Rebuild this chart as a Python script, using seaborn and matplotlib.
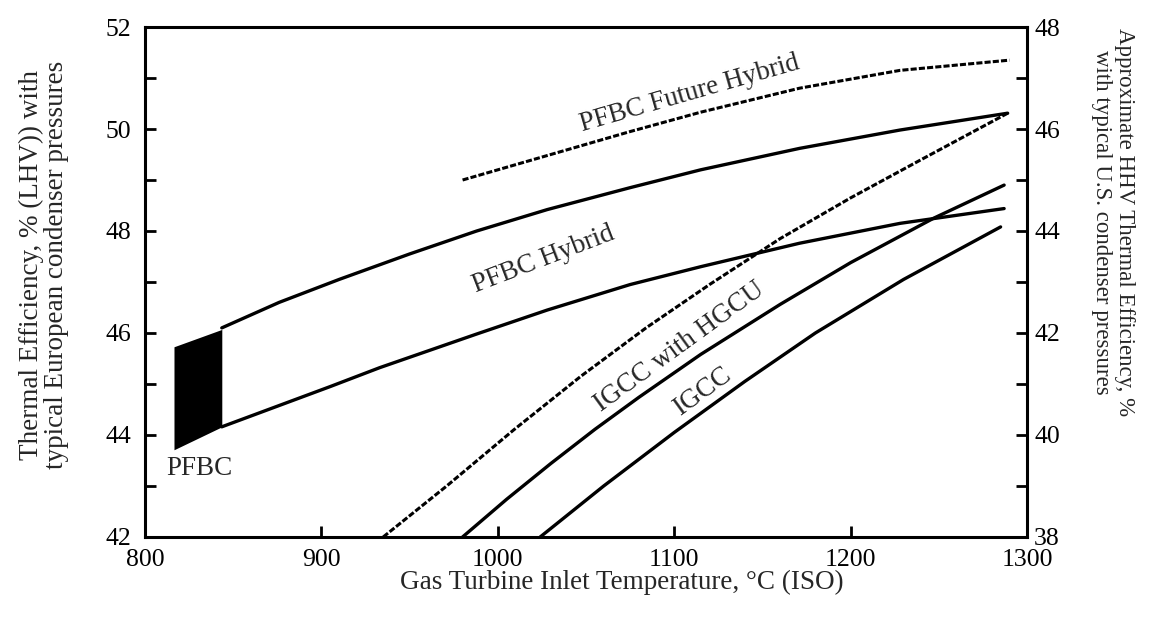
import matplotlib
matplotlib.use("Agg")
import matplotlib.pyplot as plt
import pandas as pd
import seaborn as sns
from matplotlib.ticker import MultipleLocator

# Gas turbine inlet temperature (deg C) vs. thermal efficiency (% LHV)
future_hybrid_temp = [980, 1010, 1040, 1075, 1115, 1171, 1228, 1290]
future_hybrid_eff = [49.0, 49.3, 49.6, 49.95, 50.33, 50.8, 51.15, 51.35]

hybrid_upper_temp = [843.5, 876, 910, 950, 988, 1028, 1075, 1115, 1171, 1228, 1289]
hybrid_upper_eff = [46.1, 46.6, 47.05, 47.55, 48.0, 48.42, 48.85, 49.2, 49.62, 49.98, 50.31]

hybrid_lower_temp = [843.5, 905, 933, 988, 1028, 1075, 1115, 1171, 1228, 1287]
hybrid_lower_eff = [44.16, 44.95, 45.32, 45.98, 46.45, 46.95, 47.3, 47.76, 48.15, 48.44]

igcc_adv_temp = [935, 971, 1009, 1047, 1084, 1120, 1160, 1200, 1240, 1289]
igcc_adv_eff = [42.0, 43.0, 44.1, 45.15, 46.1, 46.95, 47.85, 48.65, 49.4, 50.31]

hgcu_temp = [980, 1005, 1030, 1055, 1080, 1115, 1160, 1200, 1247, 1287]
hgcu_eff = [42.0, 42.74, 43.44, 44.11, 44.74, 45.58, 46.56, 47.38, 48.25, 48.9]

igcc_temp = [1024, 1060, 1100, 1140, 1180, 1230, 1285]
igcc_eff = [42.0, 43.0, 44.05, 45.05, 46.0, 47.05, 48.08]

# PFBC operating window (shaded block)
pfbc_temp = [816.4, 843.5]
pfbc_low = [43.71, 44.16]
pfbc_high = [45.73, 46.07]

x_ticks = [800, 900, 1000, 1100, 1200, 1300]
left_ticks = [42, 44, 46, 48, 50, 52]
right_ticks = [38, 40, 42, 44, 46, 48]

sns.set_theme(style="white")
plt.rcParams["font.family"] = ["Liberation Serif", "DejaVu Serif"]

fig = plt.figure(figsize=(11.54, 6.21), dpi=100)
ax = fig.add_axes([0.1257, 0.1353, 0.7643, 0.8212])

solid = dict(color="black", linewidth=2.4, estimator=None, sort=False, ax=ax, legend=False)
dashed = dict(color="black", linewidth=2.2, estimator=None, sort=False, ax=ax, legend=False)


def series(t, e):
    return pd.DataFrame({"temp": t, "eff": e})


sns.lineplot(data=series(hybrid_upper_temp, hybrid_upper_eff), x="temp", y="eff", **solid)
sns.lineplot(data=series(hybrid_lower_temp, hybrid_lower_eff), x="temp", y="eff", **solid)
sns.lineplot(data=series(hgcu_temp, hgcu_eff), x="temp", y="eff", **solid)
sns.lineplot(data=series(igcc_temp, igcc_eff), x="temp", y="eff", **solid)
n_solid = len(ax.lines)
sns.lineplot(data=series(future_hybrid_temp, future_hybrid_eff), x="temp", y="eff", **dashed)
sns.lineplot(data=series(igcc_adv_temp, igcc_adv_eff), x="temp", y="eff", **dashed)
for ln in ax.lines[n_solid:]:
    ln.set_dashes((2.0, 0.7))
    ln.set_dash_capstyle("butt")
for ln in ax.lines:
    ln.set_solid_joinstyle("round")

ax.fill_between(pfbc_temp, pfbc_low, pfbc_high, color="black", linewidth=0)

ax.set_xlim(800, 1300)
ax.set_ylim(42, 52)
ax.set_xticks(x_ticks)
ax.set_xticklabels([str(v) for v in x_ticks])
ax.set_yticks(left_ticks)
ax.set_yticklabels([str(v) for v in left_ticks])
ax.yaxis.set_minor_locator(MultipleLocator(1))
ax.set_xlabel("")
ax.set_ylabel("")
ax.grid(False)

for s in ax.spines.values():
    s.set_visible(True)
    s.set_color("black")
    s.set_linewidth(2.2)

ax.tick_params(axis="both", which="both", direction="in", length=8, width=2.0,
               colors="black", labelsize=18.5)
ax.tick_params(axis="y", which="both", left=True, right=False, pad=10)
ax.tick_params(axis="x", which="both", bottom=True, top=False, pad=9)

ax2 = ax.twinx()
ax2.set_ylim(38, 48)
ax2.set_yticks(right_ticks)
ax2.set_yticklabels([str(v) for v in right_ticks])
ax2.yaxis.set_minor_locator(MultipleLocator(1))
ax2.grid(False)
for s in ax2.spines.values():
    s.set_visible(False)
ax2.tick_params(axis="y", which="both", direction="in", length=8, width=2.0,
                colors="black", labelsize=18.5, pad=5, right=True, left=False)

# Curve labels
ax.text(1109, 50.69, "PFBC Future Hybrid", fontsize=19.5, rotation=16,
        ha="center", va="center")
ax.text(1026, 47.45, "PFBC Hybrid", fontsize=19.5, rotation=21,
        ha="center", va="center")
ax.text(1103, 45.72, "IGCC with HGCU", fontsize=19.5, rotation=36,
        ha="center", va="center")
ax.text(1116, 44.85, "IGCC", fontsize=19.5, rotation=36,
        ha="center", va="center")
ax.text(831, 43.35, "PFBC", fontsize=19.5, ha="center", va="center")

# Axis titles
fig.text(622 / 1154, 1 - 582 / 621, "Gas Turbine Inlet Temperature, \u00b0C (ISO)",
         fontsize=19.5, ha="center", va="center")
fig.text(44 / 1154, 1 - 265 / 621,
         "Thermal Efficiency, % (LHV)) with\ntypical European condenser pressures",
         fontsize=19.5, rotation=90, ha="center", va="center", multialignment="center",
         linespacing=1.0)
fig.text(1113 / 1154, 1 - 222 / 621,
         "Approximate HHV Thermal Efficiency, %\nwith typical U.S. condenser pressures",
         fontsize=16.5, rotation=270, ha="center", va="center", multialignment="center",
         linespacing=1.15)

fig.savefig("out.png", dpi=100, facecolor="white")
